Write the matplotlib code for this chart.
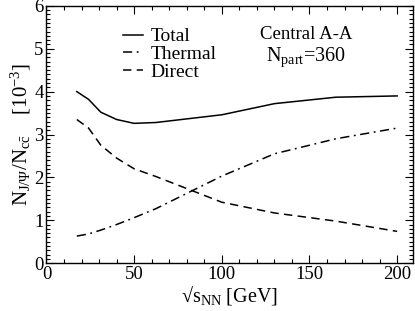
import matplotlib
matplotlib.use("Agg")
import matplotlib.pyplot as plt
from matplotlib.ticker import MultipleLocator

# data (values in units of 1e-3)
sqrt_s = [17.3, 24, 31, 40, 50, 62.4, 100, 130, 165, 200]
total = [4.00, 3.82, 3.52, 3.35, 3.26, 3.28, 3.46, 3.72, 3.87, 3.90]
thermal = [0.63, 0.68, 0.77, 0.90, 1.06, 1.27, 2.03, 2.55, 2.90, 3.15]
direct = [3.35, 3.15, 2.75, 2.45, 2.20, 2.02, 1.42, 1.17, 0.98, 0.74]

plt.rcParams['font.family'] = ['Liberation Serif', 'DejaVu Serif']
plt.rcParams['mathtext.fontset'] = 'custom'
plt.rcParams['mathtext.rm'] = 'Liberation Serif'
plt.rcParams['mathtext.it'] = 'Liberation Serif:italic'
plt.rcParams['font.size'] = 13.5

fig = plt.figure(figsize=(4.15, 3.11), dpi=100)
ax = fig.add_axes([0.112, 0.154, 0.883, 0.827])

ax.plot(sqrt_s, total, color='black', lw=1.1, label='Total')
ax.plot(sqrt_s, thermal, color='black', lw=1.1, dashes=(6, 3, 1.2, 3), label='Thermal')
ax.plot(sqrt_s, direct, color='black', lw=1.1, dashes=(5.5, 3.5), label='Direct')

ax.set_xlim(0, 209)
ax.set_ylim(0, 6)
ax.xaxis.set_major_locator(MultipleLocator(50))
ax.xaxis.set_minor_locator(MultipleLocator(10))
ax.yaxis.set_major_locator(MultipleLocator(1))
ax.yaxis.set_minor_locator(MultipleLocator(0.1))
ax.tick_params(which='both', direction='in', top=True, right=True, width=0.8)
ax.tick_params(which='major', length=6, pad=2)
ax.tick_params(which='minor', length=3)
for s in ax.spines.values():
    s.set_linewidth(1.0)

ax.set_xlabel('\u221as$_{\\mathrm{NN}}$ [GeV]', fontsize=14.5, labelpad=1)
ax.set_ylabel(r'N$_{\mathrm{J/\Psi}}$/N$_{\mathrm{c\bar{c}}}$    [10$^{-3}$]',
              fontsize=15, labelpad=1)

ax.legend(loc='upper left', bbox_to_anchor=(0.21, 0.915), frameon=False,
          fontsize=14, borderpad=0, borderaxespad=0, handlelength=1.0,
          handletextpad=0.4, labelspacing=0.0)

ax.text(0.708, 0.89, 'Central A-A', transform=ax.transAxes, ha='center', va='center')
ax.text(0.708, 0.80, r'N$_{\mathrm{part}}$=360', fontsize=14.5,
        transform=ax.transAxes, ha='center', va='center')

fig.savefig('out.png', dpi=100)
